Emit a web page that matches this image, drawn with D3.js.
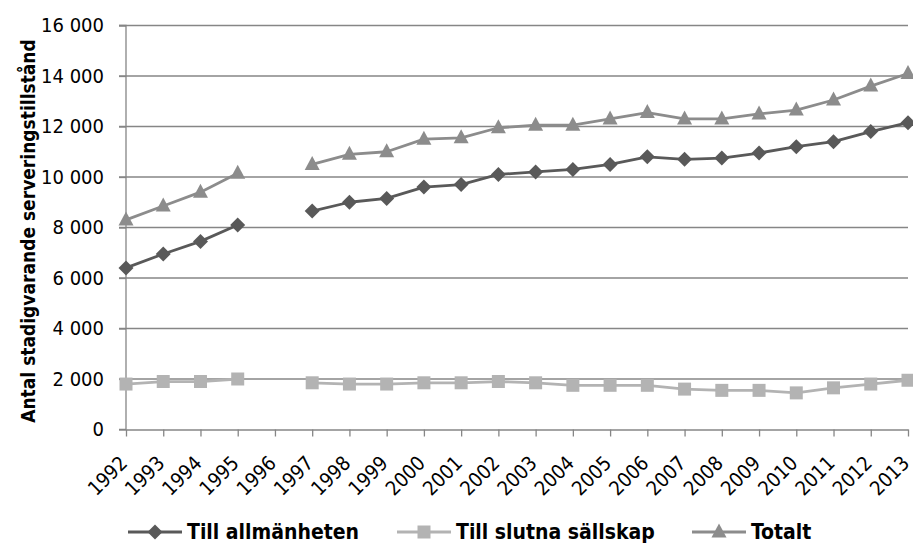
<!DOCTYPE html>
<html>
<head>
<meta charset="utf-8">
<script src="https://cdn.jsdelivr.net/npm/d3@7"></script>
<style>
  html, body { margin: 0; padding: 0; background: #fff; }
  svg { display: block; }
  text { font-family: "DejaVu Sans Condensed", "DejaVu Sans", sans-serif; font-stretch: condensed; fill: #000; }
</style>
</head>
<body>
<svg id="chart" width="913" height="545"></svg>
<script>
const years = ["1992","1993","1994","1995","1996","1997","1998","1999","2000","2001","2002","2003","2004","2005","2006","2007","2008","2009","2010","2011","2012","2013"];
const allmanheten = [6400,6950,7450,8100,null,8650,9000,9150,9600,9700,10100,10200,10300,10500,10800,10700,10750,10950,11200,11400,11800,12150];
const slutna = [1800,1900,1900,2000,null,1850,1800,1800,1850,1850,1900,1850,1750,1750,1750,1600,1550,1550,1450,1650,1800,1950];
const totalt = [8300,8850,9400,10150,null,10500,10900,11000,11500,11550,11950,12050,12050,12300,12550,12300,12300,12500,12650,13050,13600,14100];
const yTicks = [0,2000,4000,6000,8000,10000,12000,14000,16000];
const seriesNames = ["Till allmänheten","Till slutna sällskap","Totalt"];
const yTitle = "Antal stadigvarande serveringstillstånd";

const svg = d3.select("#chart");
const pLeft = 126, pRight = 908, pTop = 25.5, pBottom = 429.5;
const x = d3.scalePoint().domain(years).range([pLeft, pRight]);
const y = d3.scaleLinear().domain([0,16000]).range([pBottom, pTop]);
const gridColor = "#868686";
const fmt = v => v === 0 ? "0" : d3.format(",")(v).replace(/,/g, " ");

// gridlines
svg.append("g").selectAll("line").data(yTicks.filter(d => d > 0)).join("line")
  .attr("x1", pLeft - 7).attr("x2", pRight)
  .attr("y1", d => y(d)).attr("y2", d => y(d))
  .attr("stroke", gridColor).attr("stroke-width", 1.3);

// y axis
const yAxis = svg.append("g").attr("transform", `translate(${pLeft},0)`)
  .call(d3.axisLeft(y).tickValues(yTicks).tickFormat(fmt).tickSize(7).tickPadding(15));
yAxis.select(".domain").attr("stroke", gridColor).attr("stroke-width", 1.3).attr("d", `M-7,${pBottom}H0V${pTop}H-7`);
yAxis.selectAll(".tick line").attr("stroke", gridColor).attr("stroke-width", 1.3);
yAxis.selectAll(".tick text").style("font-size", "20px").attr("fill", "#000");

// x axis
const xAxis = svg.append("g").attr("transform", `translate(0,${pBottom})`)
  .call(d3.axisBottom(x).tickSize(7).tickSizeOuter(0));
xAxis.select(".domain").attr("stroke", gridColor).attr("stroke-width", 1.3);
xAxis.selectAll(".tick line").attr("stroke", gridColor).attr("stroke-width", 1.3);
xAxis.selectAll(".tick text")
  .style("font-size", "20px")
  .attr("text-anchor", "end")
  .attr("fill", "#000")
  .attr("transform", "translate(2,35) rotate(-45)")
  .attr("dy", "0")
  .attr("y", 0);

// y title
svg.append("text")
  .attr("transform", `translate(35,231) rotate(-90)`)
  .attr("text-anchor", "middle")
  .style("font-size", "19px")
  .style("font-weight", "bold")
  .text(yTitle);

const series = [
  {name: seriesNames[0], values: allmanheten, color: "#595959", marker: "diamond"},
  {name: seriesNames[1], values: slutna, color: "#b3b3b3", marker: "square"},
  {name: seriesNames[2], values: totalt, color: "#8c8c8c", marker: "triangle"}
];
const markerPath = {
  diamond: "M0,-7.5L7.5,0L0,7.5L-7.5,0Z",
  square: "M-6.5,-6.5H6.5V6.5H-6.5Z",
  triangle: "M0,-8.5L7.5,5.5H-7.5Z"
};

const line = d3.line().defined(d => d.v != null).x(d => x(d.year)).y(d => y(d.v));

series.forEach(s => {
  const pts = years.map((yr, i) => ({year: yr, v: s.values[i]}));
  const g = svg.append("g");
  g.append("path").datum(pts).attr("d", line)
    .attr("fill", "none").attr("stroke", s.color).attr("stroke-width", 2.8).attr("stroke-linejoin", "round");
  g.selectAll("path.m").data(pts.filter(d => d.v != null)).join("path").attr("class", "m")
    .attr("d", markerPath[s.marker])
    .attr("transform", d => `translate(${x(d.year)},${y(d.v)})`)
    .attr("fill", s.color);
});

// legend
const legendPos = [128, 397, 692];
const legendY = 532;
series.forEach((s, i) => {
  const g = svg.append("g").attr("transform", `translate(${legendPos[i]},${legendY})`);
  g.append("line").attr("x1", 0).attr("x2", 54).attr("y1", 0).attr("y2", 0)
    .attr("stroke", s.color).attr("stroke-width", 2.8);
  g.append("path").attr("d", markerPath[s.marker]).attr("transform", "translate(27,0)").attr("fill", s.color);
  g.append("text").attr("x", 59).attr("y", 0).attr("dy", "0.35em")
    .style("font-size", "21px").style("font-weight", "bold").text(s.name);
});
</script>
</body>
</html>
